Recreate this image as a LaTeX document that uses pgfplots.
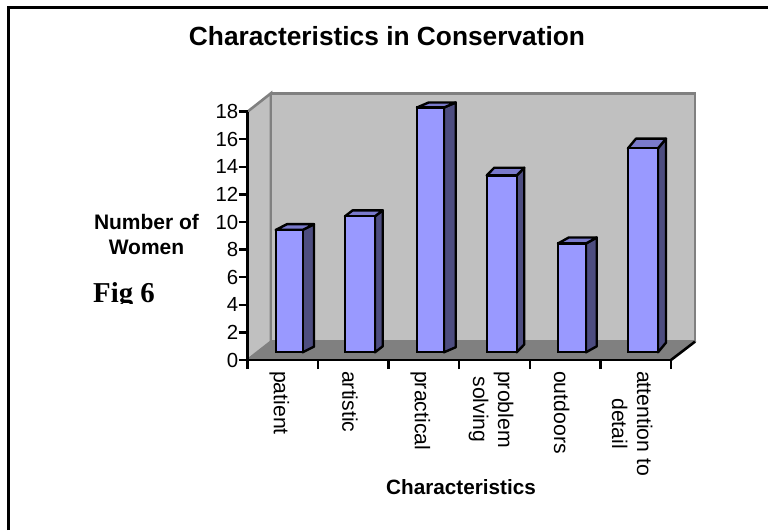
\documentclass[border=0pt]{standalone}
\usepackage{pgfplots}
\pgfplotsset{compat=1.18}
\usepackage{fontspec}
\setmainfont{Liberation Sans}
\newfontfamily\timesfont{Liberation Serif}
\definecolor{wall}{HTML}{C0C0C0}
\definecolor{floorc}{HTML}{808080}
\definecolor{barfront}{HTML}{9999FF}
\definecolor{barside}{HTML}{4D4D80}
\definecolor{bartop}{HTML}{7A7ACC}
\pgfplotsset{
  face/.style={draw=black,line width=2.4pt,line join=round},
  front/.style={ybar,bar width=#1pt,bar shift=0pt,fill=barfront,draw=black,line width=2.4pt}
}
\begin{document}
\begin{tikzpicture}[x=1pt,y=1pt]
\path[use as bounding box] (0,0) rectangle (768,530);
% frame
\draw[black,line width=2.8pt] (8.5,0) -- (8.5,522.5) -- (768,522.5);
\begin{axis}[
  at={(247.5pt,170pt)},anchor=south west,
  scale only axis,width=423.5pt,height=248.3pt,
  xmin=-0.5,xmax=5.5,ymin=0,ymax=18,
  clip=false,axis on top=true,
  axis x line*=bottom,axis y line*=left,
  axis line style={line width=2.8pt,-,black},
  xtick={-0.5,0.5,1.5,2.5,3.5,4.5,5.5},
  x tick label as interval=true,
  xticklabels={patient,artistic,practical,problem\\solving,outdoors,attention to\\detail},
  ytick={0,2,4,6,8,10,12,14,16,18},
  tick align=outside,
  major tick length=9pt,
  tick style={black,line width=2.4pt},
  /pgf/number format/assume math mode=true,
  yticklabel style={font=\fontsize{20.4}{20}\selectfont,inner sep=0pt},
  xticklabel style={font=\fontsize{21.2}{25}\selectfont,rotate=-90,anchor=west,align=center,inner sep=0pt,yshift=-3.5pt,xshift=2pt},
]
\addplot[fill=wall,draw=floorc,line width=2.6pt] coordinates {(-0.5,0)(-0.167,1.33)(-0.167,19.34)(-0.5,18)} -- cycle;
\addplot[fill=wall,draw=floorc,line width=2.6pt] coordinates {(-0.167,1.33)(-0.167,19.34)(5.84,19.34)(5.84,1.33)} -- cycle;
\addplot[fill=floorc,draw=floorc,line width=1pt] coordinates {(-0.5,0)(-0.167,1.33)(5.84,1.33)(5.5,0)} -- cycle;
\addplot[black,line width=2.6pt] coordinates {(5.5,0)(5.84,1.33)};
\end{axis}
\begin{axis}[
  at={(247.5pt,177.7pt)},anchor=south west,
  scale only axis,width=423.5pt,height=244.8pt,
  xmin=247.5,xmax=671,ymin=0,ymax=18,
  clip=false,hide axis,
]
% patient
\addplot[fill=barside,face] coordinates {(302.7,0)(314,0.42)(314,9.42)(302.7,9)} -- cycle;
\addplot[fill=bartop,face] coordinates {(275.7,9)(287,9.42)(314,9.42)(302.7,9)} -- cycle;
\addplot[front=27] coordinates {(289.2,9)};
% artistic
\addplot[fill=barside,face] coordinates {(375,0)(382.7,0.44)(382.7,10.44)(375,10)} -- cycle;
\addplot[fill=bartop,face] coordinates {(345,10)(352.7,10.44)(382.7,10.44)(375,10)} -- cycle;
\addplot[front=30] coordinates {(360,10)};
% practical
\addplot[fill=barside,face] coordinates {(444,0)(455.7,0.37)(455.7,18.37)(444,18)} -- cycle;
\addplot[fill=bartop,face] coordinates {(417,18)(428.7,18.37)(455.7,18.37)(444,18)} -- cycle;
\addplot[front=27] coordinates {(430.5,18)};
% problem solving
\addplot[fill=barside,face] coordinates {(516.7,0)(524.2,0.57)(524.2,13.57)(516.7,13)} -- cycle;
\addplot[fill=bartop,face] coordinates {(486.7,13)(494.2,13.57)(524.2,13.57)(516.7,13)} -- cycle;
\addplot[front=30] coordinates {(501.7,13)};
% outdoors
\addplot[fill=barside,face] coordinates {(586,0)(596.7,0.44)(596.7,8.44)(586,8)} -- cycle;
\addplot[fill=bartop,face] coordinates {(558,8)(568.7,8.44)(596.7,8.44)(586,8)} -- cycle;
\addplot[front=28] coordinates {(572,8)};
% attention to detail
\addplot[fill=barside,face] coordinates {(658,0)(666,0.71)(666,15.71)(658,15)} -- cycle;
\addplot[fill=bartop,face] coordinates {(628,15)(636,15.71)(666,15.71)(658,15)} -- cycle;
\addplot[front=30] coordinates {(643,15)};
\end{axis}
% texts
\node[anchor=base,inner sep=0pt,font=\fontsize{26.3}{27}\selectfont\bfseries] at (387,484) {Characteristics in Conservation};
\node[anchor=base,inner sep=0pt,font=\fontsize{21}{25}\selectfont\bfseries] at (146.5,300) {Number of};
\node[anchor=base,inner sep=0pt,font=\fontsize{21}{25}\selectfont\bfseries] at (146.5,275) {Women};
\node[anchor=base,inner sep=0pt,font=\fontsize{20.7}{25}\selectfont\bfseries] at (461,35) {Characteristics};
\node[anchor=base west,inner sep=0pt,font=\fontsize{28.8}{30}\selectfont\timesfont\bfseries] at (93,227) {Fig 6};
\fill[white] (88,216) rectangle (160,226);
\end{tikzpicture}
\end{document}
